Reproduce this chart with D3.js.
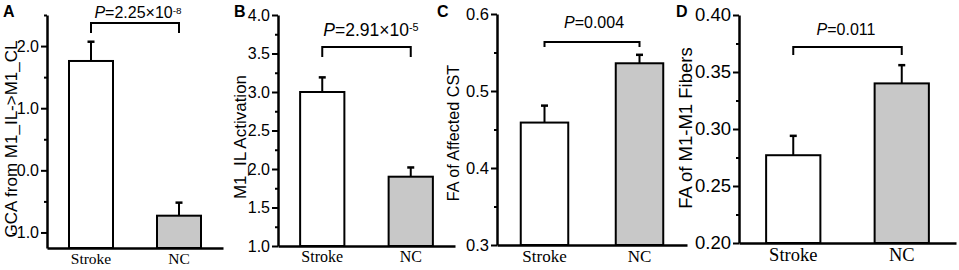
<!DOCTYPE html>
<html>
<head>
<meta charset="utf-8">
<script src="https://cdn.jsdelivr.net/npm/d3@7"></script>
<style>
  body { margin: 0; background: #fff; }
  svg { display: block; }
  .axis path, .axis line { stroke: #000; }
</style>
</head>
<body>
<div id="chart"></div>
<script>
// data
const groups = ["Stroke", "NC"];
const panelLetters = ["A", "B", "C", "D"];
const yTitles = ["GCA from M1_IL->M1_CL", "M1_IL Activation", "FA of Affected CST", "FA of M1-M1 Fibers"];
const meanValues = [[1.76, -0.73], [3.0, 1.90], [0.459, 0.536], [0.277, 0.340]];
const errorValues = [[0.31, 0.21], [0.19, 0.12], [0.022, 0.011], [0.017, 0.016]];
const pMantissa = ["2.25", "2.91", "0.004", "0.011"];
const pExponent = ["-8", "-5", null, null];
const yDomains = [[-1.25, 2.5], [1, 4], [0.3, 0.6], [0.2, 0.4]];
const majorTicks = [[-1, 0, 1, 2], [1, 1.5, 2, 2.5, 3, 3.5, 4], [0.3, 0.4, 0.5, 0.6], [0.2, 0.25, 0.3, 0.35, 0.4]];
const tickLabels = [
  ["-1.0", "0.0", "1.0", "2.0"],
  ["1.0", "1.5", "2.0", "2.5", "3.0", "3.5", "4.0"],
  ["0.3", "0.4", "0.5", "0.6"],
  ["0.20", "0.25", "0.30", "0.35", "0.40"]
];
const minorTicks = [[-0.5, 0.5, 1.5, 2.5], [1.25, 1.75, 2.25, 2.75, 3.25, 3.75], [0.35, 0.45, 0.55], [0.225, 0.275, 0.325, 0.375]];

// layout per panel (pixels); the source panels were scaled a little differently
const layout = [
  {x0: 47,  x1: 223, top: 15, bottom: 248, letterX: 3,   titleX: 11,  titleY: 139, titleSize: 17,   tickSize: 16,   catSize: 15.5, pX: 138, pY: 18, pSize: 16,   brY: 23, brLeg: 33},
  {x0: 278, x1: 455, top: 15, bottom: 246, letterX: 234, titleX: 240, titleY: 137, titleSize: 17,   tickSize: 16,   catSize: 16,   pX: 371, pY: 36, pSize: 17.5, brY: 47, brLeg: 57},
  {x0: 497, x1: 687, top: 14, bottom: 245, letterX: 437, titleX: 453, titleY: 133, titleSize: 16.2, tickSize: 16.5, catSize: 17,   pX: 594, pY: 28, pSize: 16,   brY: 42, brLeg: 47},
  {x0: 739, x1: 956, top: 15, bottom: 243, letterX: 676, titleX: 686, titleY: 128, titleSize: 18.5, tickSize: 18.5, catSize: 18.5, pX: 846, pY: 35, pSize: 16,   brY: 47, brLeg: 55}
];

const width = 959, height = 270;
const sans = "'Liberation Sans', Arial, sans-serif";
const serif = "'Liberation Serif', 'Times New Roman', serif";
const barFill = ["#ffffff", "#c8c8c8"];

const svg = d3.select("#chart").append("svg")
    .attr("width", width)
    .attr("height", height);

panelLetters.forEach((letter, i) => {
    const L = layout[i];
    const g = svg.append("g");

    const x = d3.scaleBand()
        .domain(groups)
        .range([L.x0, L.x1])
        .paddingInner(0.5)
        .paddingOuter(0.25);
    const y = d3.scaleLinear()
        .domain(yDomains[i])
        .range([L.bottom, L.top]);

    // bars
    g.selectAll("rect.bar")
        .data(groups)
        .enter().append("rect")
        .attr("class", "bar")
        .attr("x", d => x(d))
        .attr("width", x.bandwidth())
        .attr("y", (d, j) => y(meanValues[i][j]))
        .attr("height", (d, j) => L.bottom - y(meanValues[i][j]))
        .attr("fill", (d, j) => barFill[j])
        .attr("stroke", "#000")
        .attr("stroke-width", 2);

    // error bars (upper only)
    groups.forEach((d, j) => {
        const cx = x(d) + x.bandwidth() / 2;
        const yTop = y(meanValues[i][j] + errorValues[i][j]);
        g.append("line")
            .attr("x1", cx).attr("x2", cx)
            .attr("y1", y(meanValues[i][j])).attr("y2", yTop)
            .attr("stroke", "#000").attr("stroke-width", 2);
        g.append("line")
            .attr("x1", cx - 3.5).attr("x2", cx + 3.5)
            .attr("y1", yTop).attr("y2", yTop)
            .attr("stroke", "#000").attr("stroke-width", 2.5);
    });

    // y axis, minor ticks first
    g.append("g")
        .attr("class", "axis")
        .attr("transform", `translate(${L.x0},0)`)
        .call(d3.axisLeft(y).tickValues(minorTicks[i]).tickSize(3).tickSizeOuter(0).tickFormat(""))
        .call(a => a.select(".domain").remove())
        .selectAll("line").attr("stroke-width", 2);

    const yAxis = g.append("g")
        .attr("class", "axis")
        .attr("transform", `translate(${L.x0},0)`)
        .call(d3.axisLeft(y)
            .tickValues(majorTicks[i])
            .tickFormat((d, k) => tickLabels[i][k])
            .tickSize(6)
            .tickSizeOuter(0)
            .tickPadding(2));
    yAxis.select(".domain").attr("stroke-width", 2.5);
    yAxis.selectAll("line").attr("stroke-width", 2);
    yAxis.selectAll("text")
        .attr("fill", "#000")
        .style("font-family", sans)
        .style("font-size", L.tickSize + "px");

    // x axis
    const xAxis = g.append("g")
        .attr("class", "axis")
        .attr("transform", `translate(0,${L.bottom})`)
        .call(d3.axisBottom(x).tickSize(0).tickSizeOuter(0).tickPadding(5));
    xAxis.select(".domain").attr("stroke-width", 2.5);
    xAxis.selectAll("text")
        .attr("fill", "#000")
        .style("font-family", serif)
        .style("font-size", L.catSize + "px");

    // y title
    g.append("text")
        .attr("transform", `translate(${L.titleX},${L.titleY}) rotate(-90)`)
        .attr("text-anchor", "middle")
        .attr("dy", "0.35em")
        .style("font-family", sans)
        .style("font-size", L.titleSize + "px")
        .text(yTitles[i]);

    // panel letter
    g.append("text")
        .attr("x", L.letterX)
        .attr("y", 17)
        .style("font-family", sans)
        .style("font-weight", "bold")
        .style("font-size", "16px")
        .text(letter);

    // significance bracket
    const xa = x(groups[0]) + x.bandwidth() / 2;
    const xb = x(groups[1]) + x.bandwidth() / 2;
    g.append("path")
        .attr("d", `M${xa},${L.brLeg}V${L.brY}H${xb}V${L.brLeg}`)
        .attr("fill", "none")
        .attr("stroke", "#000")
        .attr("stroke-width", 2);

    const p = g.append("text")
        .attr("x", L.pX)
        .attr("y", L.pY)
        .attr("text-anchor", "middle")
        .style("font-family", sans)
        .style("font-size", L.pSize + "px");
    p.append("tspan").style("font-style", "italic").text("P");
    p.append("tspan").text("=" + pMantissa[i] + (pExponent[i] ? "×10" : ""));
    if (pExponent[i]) {
        p.append("tspan")
            .attr("dy", "-0.45em")
            .style("font-size", (L.pSize * 0.62) + "px")
            .text(pExponent[i]);
    }
});
</script>
</body>
</html>
